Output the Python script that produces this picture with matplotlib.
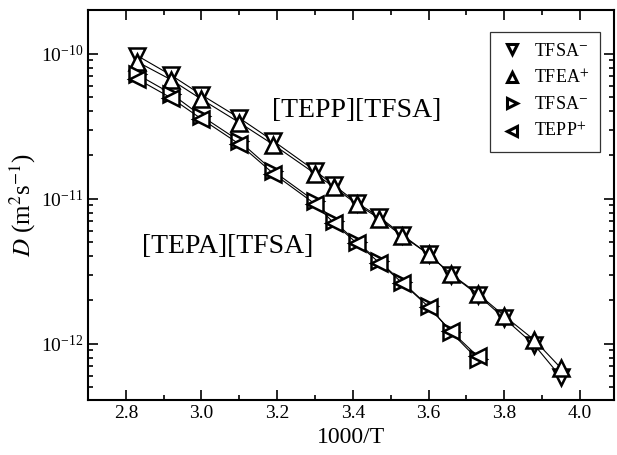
import matplotlib
matplotlib.use('Agg')
import matplotlib.pyplot as plt
from matplotlib.ticker import LogLocator, MultipleLocator, NullFormatter, FixedLocator

plt.rcParams['font.family'] = 'Liberation Serif'
plt.rcParams['mathtext.fontset'] = 'stix'

# 1000/T values
x_tepp = [2.83, 2.92, 3.00, 3.10, 3.19, 3.30, 3.35, 3.41, 3.47, 3.53, 3.60, 3.66, 3.73, 3.80, 3.88, 3.95]
x_tepa = [2.83, 2.92, 3.00, 3.10, 3.19, 3.30, 3.35, 3.41, 3.47, 3.53, 3.60, 3.66, 3.73]

# diffusion coefficients, m^2/s
d_tfsa_1 = [9.7e-11, 7.1e-11, 5.2e-11, 3.6e-11, 2.5e-11, 1.56e-11, 1.24e-11, 9.4e-12,
            7.5e-12, 5.65e-12, 4.15e-12, 3.0e-12, 2.18e-12, 1.5e-12, 0.98e-12, 5.9e-13]
d_cat_1 = [8.8e-11, 6.6e-11, 4.85e-11, 3.35e-11, 2.36e-11, 1.49e-11, 1.2e-11, 9.2e-12,
           7.3e-12, 5.55e-12, 4.15e-12, 3.02e-12, 2.22e-12, 1.56e-12, 1.06e-12, 6.8e-13]
d_tfsa_2 = [7.2e-11, 5.3e-11, 3.72e-11, 2.5e-11, 1.55e-11, 9.6e-12, 7.0e-12, 5.05e-12,
            3.7e-12, 2.68e-12, 1.82e-12, 1.2e-12, 7.8e-13]
d_cat_2 = [6.7e-11, 4.95e-11, 3.55e-11, 2.38e-11, 1.49e-11, 9.2e-12, 6.8e-12, 4.95e-12,
           3.62e-12, 2.64e-12, 1.8e-12, 1.22e-12, 8.2e-13]

y_major = [1e-12, 1e-11, 1e-10]

series = [
    (x_tepp, d_tfsa_1, 'v', 'TFSA$^{-}$'),
    (x_tepp, d_cat_1, '^', 'TFEA$^{+}$'),
    (x_tepa, d_tfsa_2, '>', 'TFSA$^{-}$'),
    (x_tepa, d_cat_2, '<', 'TEPP$^{+}$'),
]

fig = plt.figure(figsize=(6.17, 4.55), dpi=100)
ax = fig.add_axes([0.1426, 0.1209, 0.8524, 0.8571])

for xs, ys, m, lab in series:
    ax.plot(xs, ys, '-', color='black', lw=0.8)
    ax.plot(xs, ys, linestyle='none', marker=m, ms=11, mfc='white', mec='black',
            mew=1.8, label=lab)

ax.set_yscale('log')
ax.set_xlim(2.7, 4.09)
ax.set_ylim(4.1e-13, 2.0e-10)

ax.xaxis.set_major_locator(MultipleLocator(0.2))
ax.xaxis.set_minor_locator(MultipleLocator(0.1))
ax.yaxis.set_major_locator(FixedLocator(y_major))
ax.yaxis.set_minor_locator(LogLocator(base=10, subs=range(2, 10), numticks=10))
ax.yaxis.set_minor_formatter(NullFormatter())

ax.tick_params(which='both', direction='in', top=True, right=True, labelsize=14, width=1.2)
ax.tick_params(which='major', length=7)
ax.tick_params(which='minor', length=3.5)
for sp in ax.spines.values():
    sp.set_linewidth(1.5)

ax.set_xlabel('1000/T', fontsize=17, labelpad=4)
ax.set_ylabel('$D$ (m$^{2}$s$^{-1}$)', fontsize=18, labelpad=2)

ax.text(3.41, 4.05e-11, '[TEPP][TFSA]', fontsize=20, ha='center', va='center')
ax.text(3.07, 4.72e-12, '[TEPA][TFSA]', fontsize=20, ha='center', va='center')

leg = ax.legend(loc='upper right', bbox_to_anchor=(0.973, 0.944), borderaxespad=0,
                fontsize=13, frameon=True, fancybox=False, edgecolor='black',
                handletextpad=0.6, labelspacing=0.5, borderpad=0.6, handlelength=1.2)
leg.get_frame().set_linewidth(0.9)
for h in leg.legend_handles:
    h.set_markerfacecolor('white')
    h.set_markersize(7)
    h.set_markeredgewidth(2.2)

fig.savefig('out.png', dpi=100)
